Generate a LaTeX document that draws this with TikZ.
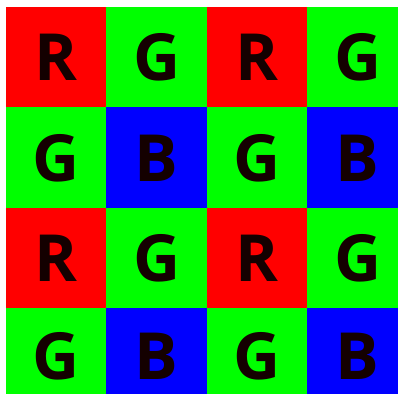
\documentclass[tikz,border=0pt]{standalone}
\usepackage{fontspec}
\setmainfont{Open Sans}
\usepackage{xcolor}
\definecolor{bayerR}{RGB}{255,0,0}
\definecolor{bayerG}{RGB}{0,255,0}
\definecolor{bayerB}{RGB}{0,0,255}

\begin{document}
\begin{tikzpicture}[x=0.02cm, y=-0.02cm,
  pixel/.style={rectangle, inner sep=0pt, outer sep=0pt,
    minimum width=2.03cm, minimum height=2.03cm},
  letter/.style={inner sep=0pt,
    font=\fontsize{37}{37}\selectfont\bfseries, text=black!92!red}]
\useasboundingbox (0,0) rectangle (398,393);
\clip (0,0) rectangle (398,393);
\foreach \row/\a/\b/\ly in {0/R/G/57, 1/G/B/158, 2/R/G/258, 3/G/B/356} {
  \foreach \col in {0,1,2,3} {
    \pgfmathtruncatemacro{\parity}{mod(\col,2)}
    \ifnum\parity=0 \def\ch{\a}\else\def\ch{\b}\fi
    \node[pixel, fill=bayer\ch] (cell\row\col)
      at ({6+100.5*\col+50.25}, {7+100.5*\row+50.25}) {};
    \node[letter] (lbl\row\col) at (cell\row\col.center |- 0,\ly) {\ch};
  }
}
\end{tikzpicture}
\end{document}
